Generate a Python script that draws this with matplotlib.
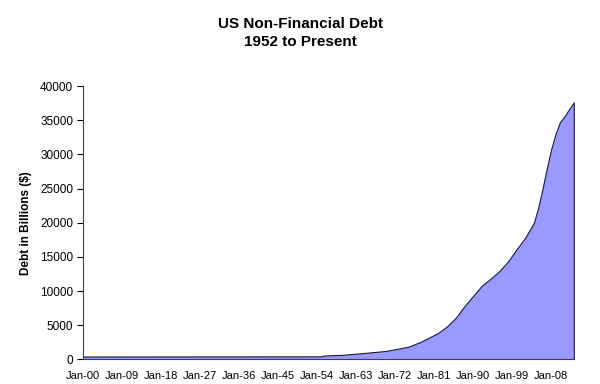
import matplotlib
matplotlib.use("Agg")
import matplotlib.pyplot as plt
import numpy as np

plt.rcParams['font.family'] = ['Liberation Sans', 'DejaVu Sans']

years = [1900, 1955, 1955.5, 1960, 1965, 1970, 1975, 1978, 1980, 1982, 1984, 1986,
         1988, 1990, 1992, 1994, 1996, 1998, 2000, 2002, 2003, 2004, 2005, 2006,
         2007, 2008, 2009, 2010, 2011, 2012, 2013.2]
debt = [430, 450, 560, 680, 950, 1250, 1850, 2600, 3250, 3900, 4850, 6100,
        7800, 9300, 10800, 11800, 12900, 14300, 16100, 17800, 18900, 20000, 22200, 25000,
        28000, 30800, 33000, 34700, 35500, 36500, 37600]

tick_years = [1900, 1909, 1918, 1927, 1936, 1945, 1954, 1963, 1972, 1981, 1990, 1999, 2008]
tick_labels = ["Jan-00", "Jan-09", "Jan-18", "Jan-27", "Jan-36", "Jan-45", "Jan-54",
               "Jan-63", "Jan-72", "Jan-81", "Jan-90", "Jan-99", "Jan-08"]
y_ticks = [0, 5000, 10000, 15000, 20000, 25000, 30000, 35000, 40000]

fig = plt.figure(figsize=(6, 3.84), dpi=100)
ax = fig.add_axes([0.138, 0.064, 0.819, 0.712])

ax.fill_between(years, debt, 0, facecolor='#9999FF', edgecolor='#1a1a40', linewidth=0.8)

ax.set_xlim(1900, 2013.3)
ax.set_ylim(0, 40000)
ax.set_yticks(y_ticks)
ax.set_yticklabels([str(v) for v in y_ticks], fontsize=8.5)
ax.set_xticks(tick_years)
ax.set_xticklabels(tick_labels, fontsize=8)
ax.tick_params(axis='x', length=0, pad=8)
ax.tick_params(axis='y', length=4, width=0.8, pad=3, direction='out')

for s in ['top', 'right']:
    ax.spines[s].set_visible(False)
ax.spines['left'].set_color('#404040')
ax.spines['bottom'].set_color('#404040')
ax.spines['left'].set_linewidth(0.8)
ax.spines['bottom'].set_linewidth(0.8)

ax.set_ylabel("Debt in Billions ($)", fontsize=8.5, fontweight='bold', labelpad=6)

fig.text(0.5, 0.914, "US Non-Financial Debt\n1952 to Present", ha='center', va='center',
         fontsize=11, fontweight='bold', linespacing=1.3)

fig.savefig("out.png", dpi=100)
